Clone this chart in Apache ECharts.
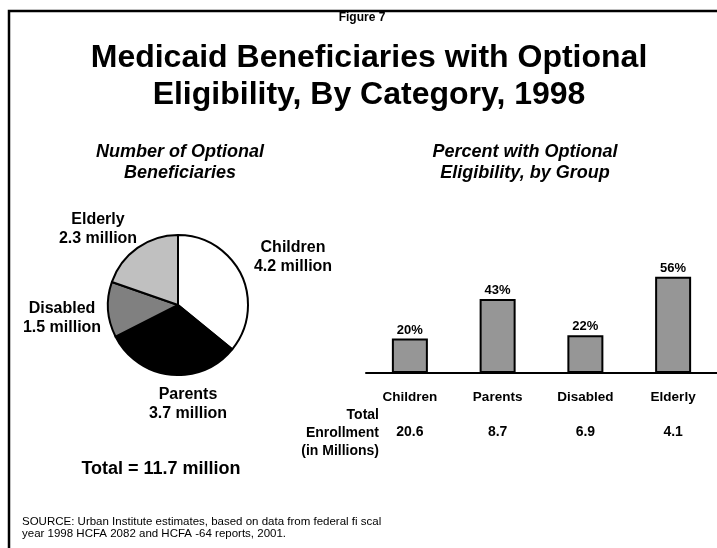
<!DOCTYPE html>
<html>
<head>
<meta charset="utf-8">
<script src="https://cdn.jsdelivr.net/npm/echarts@6/dist/echarts.min.js"></script>
<style>
html,body{margin:0;padding:0;background:#fff;}
#chart{width:717px;height:548px;}
</style>
</head>
<body>
<div id="chart"></div>
<script>
// ---- Data ----
var pieNames = ['Children', 'Parents', 'Disabled', 'Elderly'];
var pieValues = [4.2, 3.7, 1.5, 2.3];
var pieColors = ['#ffffff', '#000000', '#808080', '#c0c0c0'];

var barCategories = ['Children', 'Parents', 'Disabled', 'Elderly'];
var barPercents = [20, 43, 22, 56];
var enrollment = ['20.6', '8.7', '6.9', '4.1'];

var FONT = "'Liberation Sans', Arial, Helvetica, sans-serif";

// label positions for pie labels (layout only)
var pieLabelPos = {
  'Children': [293, 257],
  'Parents': [188, 404],
  'Disabled': [62, 318],
  'Elderly': [98, 229]
};

var chart = echarts.init(document.getElementById('chart'), null, {renderer: 'canvas'});

var option = {
  backgroundColor: '#ffffff',
  animation: false,
  textStyle: {fontFamily: FONT},
  graphic: [
    {type: 'rect', shape: {x: 9, y: 11, width: 760, height: 600}, style: {fill: 'none', stroke: '#000', lineWidth: 2.5}, z: 100},
    {type: 'text', style: {text: 'Figure 7', x: 362, y: 18, textAlign: 'center', textVerticalAlign: 'middle', font: 'bold 12px ' + FONT, fill: '#000'}},
    {type: 'text', style: {text: 'Medicaid Beneficiaries with Optional\nEligibility, By Category, 1998', x: 369, y: 77, textAlign: 'center', textVerticalAlign: 'middle', font: 'bold 32px ' + FONT, lineHeight: 37, fill: '#000'}},
    {type: 'text', style: {text: 'Number of Optional\nBeneficiaries', x: 180, y: 162.5, textAlign: 'center', textVerticalAlign: 'middle', font: 'italic bold 18px ' + FONT, lineHeight: 21, fill: '#000'}},
    {type: 'text', style: {text: 'Percent with Optional\nEligibility, by Group', x: 525, y: 162.5, textAlign: 'center', textVerticalAlign: 'middle', font: 'italic bold 18px ' + FONT, lineHeight: 21, fill: '#000'}},
    {type: 'text', style: {text: 'Total = 11.7 million', x: 161, y: 469, textAlign: 'center', textVerticalAlign: 'middle', font: 'bold 18px ' + FONT, fill: '#000'}},
    {type: 'text', style: {text: 'Total\nEnrollment\n(in Millions)', x: 379, y: 433, textAlign: 'right', textVerticalAlign: 'middle', font: 'bold 14px ' + FONT, lineHeight: 18, fill: '#000'}},
    {type: 'text', style: {text: 'SOURCE: Urban Institute estimates, based on data from federal fi scal\nyear 1998 HCFA 2082 and HCFA -64 reports, 2001.', x: 22, y: 528, textAlign: 'left', textVerticalAlign: 'middle', font: '11.5px ' + FONT, lineHeight: 11.5, fill: '#000'}}
  ],
  grid: {left: 366, top: 201, width: 355, height: 172, containLabel: false},
  xAxis: [
    {
      type: 'category', data: barCategories, position: 'bottom',
      axisLine: {show: true, lineStyle: {color: '#000', width: 2}},
      axisTick: {show: false},
      axisLabel: {color: '#000', fontWeight: 'bold', fontSize: 13.5, fontFamily: FONT, margin: 17}
    },
    {
      type: 'category', data: enrollment, position: 'bottom', offset: 35,
      axisLine: {show: false}, axisTick: {show: false},
      axisLabel: {color: '#000', fontWeight: 'bold', fontSize: 14, fontFamily: FONT, margin: 17}
    }
  ],
  yAxis: {type: 'value', min: 0, max: 100, show: false, splitLine: {show: false}},
  series: [
    {
      type: 'pie',
      center: [178, 305],
      radius: 70,
      startAngle: 90,
      clockwise: true,
      avoidLabelOverlap: false,
      data: pieNames.map(function (n, i) {
        return {name: n, value: pieValues[i], itemStyle: {color: pieColors[i]}};
      }),
      itemStyle: {borderColor: '#000', borderWidth: 2},
      label: {
        show: true, position: 'outside',
        formatter: function (p) { return p.name + '\n' + p.value.toFixed(1) + ' million'; },
        color: '#000', fontWeight: 'bold', fontSize: 16, fontFamily: FONT, lineHeight: 18.5, align: 'center'
      },
      labelLine: {show: false},
      labelLayout: function (params) {
        var p = pieLabelPos[pieNames[params.dataIndex]];
        return {x: p[0], y: p[1], align: 'center', verticalAlign: 'middle'};
      },
      emphasis: {disabled: true}
    },
    {
      type: 'bar',
      xAxisIndex: 0,
      data: barPercents,
      barWidth: 36,
      itemStyle: {color: '#969696', borderColor: '#000', borderWidth: 2},
      label: {
        show: true, position: 'top', distance: 2,
        formatter: '{c}%', color: '#000', fontWeight: 'bold', fontSize: 13, fontFamily: FONT
      },
      emphasis: {disabled: true}
    }
  ]
};
chart.setOption(option);
</script>
</body>
</html>
